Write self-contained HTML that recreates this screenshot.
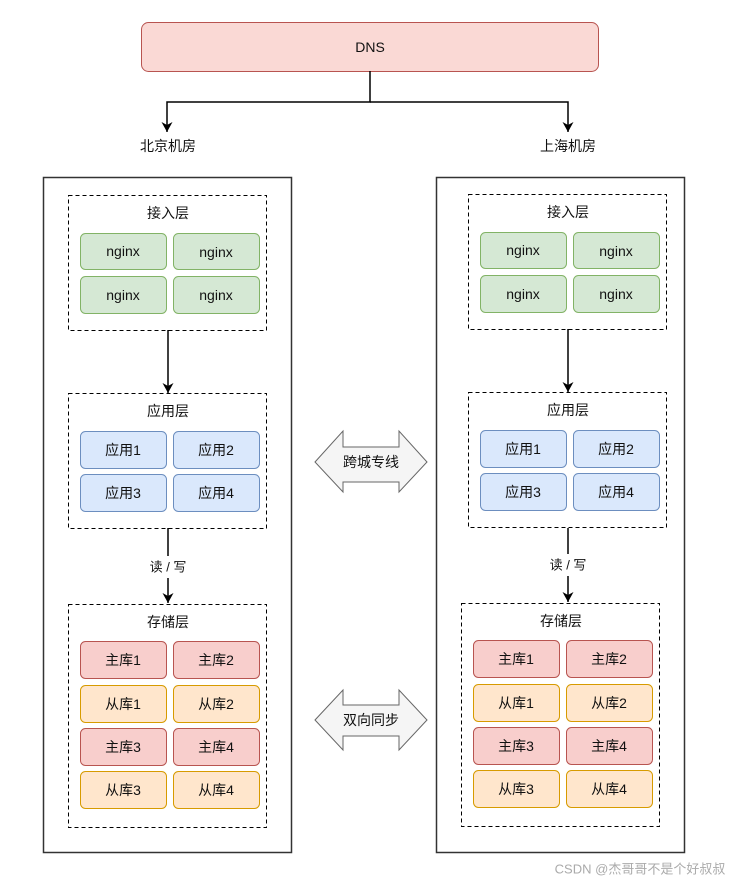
<!DOCTYPE html>
<html><head><meta charset="utf-8"><style>
html,body{margin:0;padding:0;background:#fff;}
svg{display:block;}
text{font-family:"Liberation Sans","Noto Sans CJK SC",sans-serif;font-size:14px;fill:#111;text-anchor:middle;dominant-baseline:central;}
</style></head><body>
<svg width="735" height="882" viewBox="0 0 735 882" xmlns="http://www.w3.org/2000/svg">
<defs>
<marker id="ah" markerWidth="12" markerHeight="12" refX="10" refY="5.5" orient="auto" markerUnits="userSpaceOnUse">
<path d="M0,0 L10,5.5 L0,11 L3,5.5 Z" fill="#000"/>
</marker>
</defs>
<rect x="141.5" y="22.5" width="457" height="49" rx="7" fill="#fad9d5" stroke="#b85450"/>
<text x="370" y="47">DNS</text>
<path d="M370,71 V102 H167 V132" fill="none" stroke="#000" stroke-width="1.5" marker-end="url(#ah)"/>
<path d="M370,102 H568 V132" fill="none" stroke="#000" stroke-width="1.5" marker-end="url(#ah)"/>
<text x="168" y="146">北京机房</text>
<text x="568" y="146">上海机房</text>

<rect x="43.5" y="177.5" width="248" height="675" fill="none" stroke="#333" stroke-width="1.5"/>
<rect x="436.5" y="177.5" width="248" height="675" fill="none" stroke="#333" stroke-width="1.5"/>

<g id="L">
<rect x="68.5" y="195.5" width="198" height="135" fill="none" stroke="#000" stroke-dasharray="4,3"/>
<text x="168" y="213">接入层</text>
<g fill="#d5e8d4" stroke="#82b366">
<rect x="80.5" y="233.5" width="86" height="36" rx="5"/>
<rect x="173.5" y="233.5" width="86" height="36" rx="5"/>
<rect x="80.5" y="276.5" width="86" height="37" rx="5"/>
<rect x="173.5" y="276.5" width="86" height="37" rx="5"/>
</g>
<text x="123" y="251">nginx</text><text x="216" y="252">nginx</text>
<text x="123" y="295">nginx</text><text x="216" y="295">nginx</text>
<path d="M168,330 V393" stroke="#000" stroke-width="1.5" marker-end="url(#ah)"/>
<rect x="68.5" y="393.5" width="198" height="135" fill="none" stroke="#000" stroke-dasharray="4,3"/>
<text x="168" y="411">应用层</text>
<g fill="#dae8fc" stroke="#6c8ebf">
<rect x="80.5" y="431.5" width="86" height="37" rx="5"/>
<rect x="173.5" y="431.5" width="86" height="37" rx="5"/>
<rect x="80.5" y="474.5" width="86" height="37" rx="5"/>
<rect x="173.5" y="474.5" width="86" height="37" rx="5"/>
</g>
<text x="123" y="450">应用1</text><text x="216" y="450">应用2</text>
<text x="123" y="493">应用3</text><text x="216" y="493">应用4</text>
</g>
<use href="#L" x="400" y="-1"/>

<path d="M168,528 V556 M168,578 V603" stroke="#000" stroke-width="1.5" marker-end="url(#ah)"/>
<text x="168" y="567" style="font-size:13px">读 / 写</text>
<path d="M568,528 V554 M568,576 V602" stroke="#000" stroke-width="1.5" marker-end="url(#ah)"/>
<text x="568" y="565" style="font-size:13px">读 / 写</text>

<g id="S">
<rect x="68.5" y="604.5" width="198" height="223" fill="none" stroke="#000" stroke-dasharray="4,3"/>
<text x="168" y="622">存储层</text>
<g stroke-width="1">
<rect x="80.5" y="641.5" width="86" height="37" rx="5" fill="#f8cecc" stroke="#b85450"/>
<rect x="173.5" y="641.5" width="86" height="37" rx="5" fill="#f8cecc" stroke="#b85450"/>
<rect x="80.5" y="685.5" width="86" height="37" rx="5" fill="#ffe6cc" stroke="#d79b00"/>
<rect x="173.5" y="685.5" width="86" height="37" rx="5" fill="#ffe6cc" stroke="#d79b00"/>
<rect x="80.5" y="728.5" width="86" height="37" rx="5" fill="#f8cecc" stroke="#b85450"/>
<rect x="173.5" y="728.5" width="86" height="37" rx="5" fill="#f8cecc" stroke="#b85450"/>
<rect x="80.5" y="771.5" width="86" height="37" rx="5" fill="#ffe6cc" stroke="#d79b00"/>
<rect x="173.5" y="771.5" width="86" height="37" rx="5" fill="#ffe6cc" stroke="#d79b00"/>
</g>
<text x="123" y="660">主库1</text><text x="216" y="660">主库2</text>
<text x="123" y="704">从库1</text><text x="216" y="704">从库2</text>
<text x="123" y="747">主库3</text><text x="216" y="747">主库4</text>
<text x="123" y="790">从库3</text><text x="216" y="790">从库4</text>
</g>
<use href="#S" x="393" y="-1"/>

<path d="M315,462 L343,431 V447 H399 V431 L427,462 L399,492 V482 H343 V492 Z" fill="#f5f5f5" stroke="#666"/>
<text x="371" y="462">跨城专线</text>
<path d="M315,720 L343,690 V705 H399 V690 L427,720 L399,750 V736 H343 V750 Z" fill="#f5f5f5" stroke="#666"/>
<text x="371" y="720">双向同步</text>

<text x="640" y="869" style="font-size:13px;fill:#aaa">CSDN @杰哥哥不是个好叔叔</text>
</svg>
</body></html>
